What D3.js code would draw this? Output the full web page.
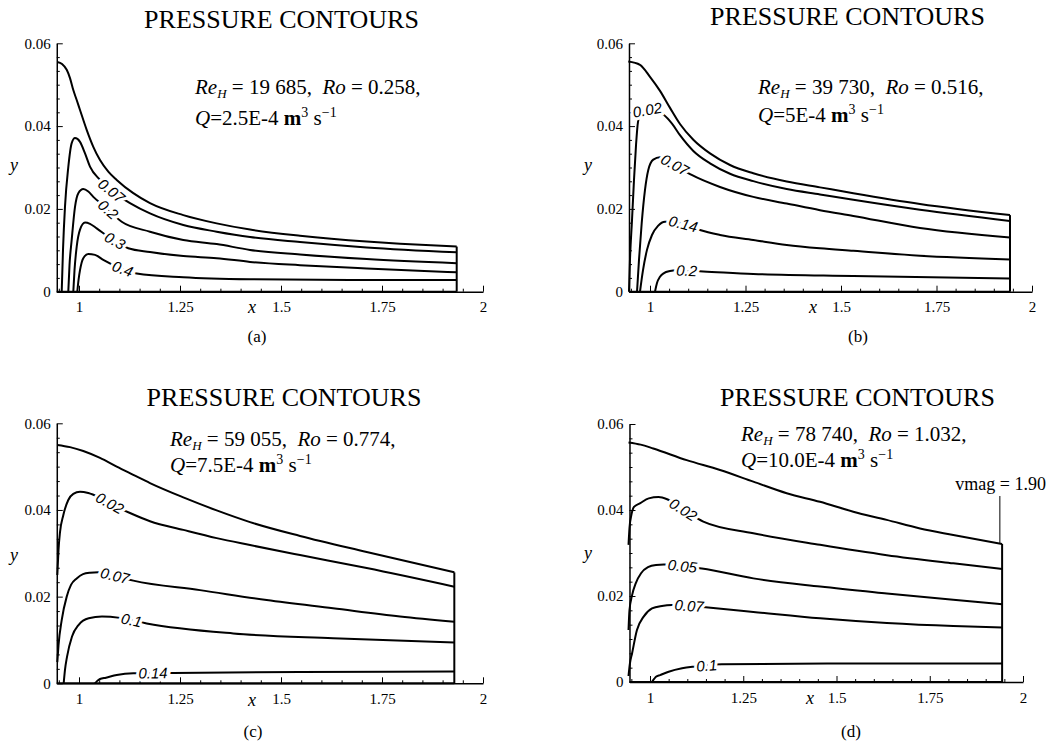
<!DOCTYPE html>
<html>
<head>
<meta charset="utf-8">
<script src="https://cdn.jsdelivr.net/npm/d3@7"></script>
<style>
  body { margin: 0; background: #fff; }
  svg text { font-family: "Liberation Serif", "Times New Roman", serif; fill: #000; }
  svg text.clab { font-family: "Liberation Sans", Arial, sans-serif; font-style: italic; }
</style>
</head>
<body>
<svg id="fig" width="1048" height="747"></svg>
<script>
// ---- data (x, y in metres) ----
var xTicks = [1, 1.25, 1.5, 1.75, 2];
var yTicks = [0, 0.02, 0.04, 0.06];
var xMin = 0.945;

var reValues = ["19 685", "39 730", "59 055", "78 740"];
var roValues = ["0.258", "0.516", "0.774", "1.032"];
var qValues = ["2.5E-4", "5E-4", "7.5E-4", "10.0E-4"];

// (a)
var aTop = [[0.9463,0.0555],[0.958,0.0550],[0.9696,0.0536],[0.9777,0.0516],[0.9859,0.0487],[0.9943,0.0463],[1.0025,0.0439],[1.019,0.0391],[1.0354,0.0350],[1.052,0.0318],[1.0725,0.0290],[1.0933,0.0270],[1.1344,0.0238],[1.1757,0.0214],[1.2582,0.0185],[1.3408,0.0165],[1.4233,0.0150],[1.547,0.0135],[1.712,0.0121],[1.7946,0.0116],[1.9349,0.0109]];
var aC007 = [[0.9572,0],[0.9604,0.0101],[0.9653,0.0205],[0.9735,0.0301],[0.9819,0.0359],[0.9901,0.0371],[1.0025,0.0362],[1.0149,0.0334],[1.0272,0.0302],[1.052,0.0270],[1.0767,0.0246],[1.1015,0.0229],[1.1262,0.0214],[1.1757,0.0189],[1.2582,0.0161],[1.3408,0.0145],[1.4233,0.0132],[1.547,0.0120],[1.712,0.0107],[1.9349,0.0095]];
var aC02 = [[0.9735,0],[0.9765,0.0064],[0.9819,0.0125],[0.9901,0.0205],[0.9983,0.0238],[1.0106,0.0248],[1.023,0.0242],[1.0354,0.0229],[1.0644,0.0205],[1.1057,0.0169],[1.1757,0.0145],[1.2582,0.0125],[1.3408,0.0115],[1.4233,0.0101],[1.547,0.0090],[1.712,0.0079],[1.9349,0.0069]];
var aC03 = [[0.9859,0],[0.9889,0.0052],[0.9943,0.0109],[1.0025,0.0150],[1.0149,0.0167],[1.0272,0.0164],[1.0438,0.0153],[1.0767,0.0130],[1.1220,0.0105],[1.1757,0.0096],[1.2582,0.0086],[1.3408,0.0081],[1.4233,0.0072],[1.547,0.0064],[1.712,0.0056],[1.9349,0.0047]];
var aC04 = [[0.9958,0],[0.9988,0.0028],[1.0025,0.0052],[1.0106,0.0081],[1.023,0.0091],[1.0396,0.0089],[1.0601,0.0077],[1.1015,0.0057],[1.1428,0.0044],[1.2582,0.0035],[1.4233,0.0030],[1.6708,0.0028],[1.9349,0.0028]];
var aLevels = ["0.07", "0.2", "0.3", "0.4"];
var aLabelX = [1.080, 1.072, 1.089, 1.108];

// (b)
var bTop = [[0.9432,0.0556],[0.9738,0.0548],[1.0,0.0519],[1.0262,0.0485],[1.0524,0.0444],[1.0785,0.0405],[1.1134,0.0367],[1.1571,0.0334],[1.2094,0.0306],[1.2704,0.0286],[1.3579,0.0266],[1.445,0.0252],[1.5322,0.0238],[1.7068,0.0212],[1.9424,0.0185]];
var bC002 = [[0.945,0],[0.9476,0.0077],[0.9529,0.0173],[0.9581,0.0270],[0.9634,0.0354],[0.9686,0.0410],[0.9764,0.0432],[0.9895,0.0439],[1.0131,0.0438],[1.0348,0.0428],[1.0576,0.0406],[1.0785,0.0378],[1.1134,0.0340],[1.1571,0.0310],[1.2094,0.0285],[1.2704,0.0267],[1.3579,0.0248],[1.445,0.0235],[1.5322,0.0222],[1.7068,0.0198],[1.9424,0.0171]];
var bC007 = [[0.9660,0],[0.9712,0.0077],[0.9783,0.0166],[0.9869,0.0246],[0.9955,0.0294],[1.0086,0.0319],[1.0262,0.0325],[1.0654,0.0306],[1.1091,0.0282],[1.1832,0.0253],[1.2704,0.0229],[1.3579,0.0213],[1.445,0.0197],[1.5322,0.0183],[1.7068,0.0154],[1.9424,0.0131]];
var bC014 = [[0.9738,0],[0.9817,0.0052],[0.9921,0.0101],[1.0052,0.0137],[1.0209,0.0159],[1.0393,0.0169],[1.0576,0.0169],[1.0916,0.0163],[1.1309,0.0149],[1.1832,0.0137],[1.2704,0.0125],[1.3579,0.0113],[1.445,0.0105],[1.5322,0.0099],[1.7068,0.0087],[1.9424,0.0078]];
var bC02 = [[1.0131,0],[1.0183,0.0021],[1.0262,0.0036],[1.0366,0.0045],[1.0524,0.0050],[1.0681,0.0052],[1.1395,0.0049],[1.2704,0.0043],[1.5322,0.0038],[1.9424,0.0032]];
var bLevels = ["0.02", "0.07", "0.14", "0.2"];
var bLabelX = [0.993, 1.065, 1.087, 1.096];

// (c)
var cTop = [[0.9463,0.0550],[0.9777,0.0545],[1.0106,0.0536],[1.052,0.0520],[1.0933,0.0500],[1.1344,0.0481],[1.1757,0.0462],[1.2582,0.0429],[1.3408,0.0399],[1.4233,0.0372],[1.547,0.0340],[1.7121,0.0303],[1.9290,0.0256]];
var cC002 = [[0.9463,0.0250],[0.9493,0.0308],[0.9530,0.0349],[0.9611,0.0388],[0.9735,0.0423],[0.9859,0.0437],[1.0025,0.0442],[1.023,0.0439],[1.052,0.0428],[1.0891,0.0409],[1.1262,0.0393],[1.1757,0.0374],[1.2582,0.0354],[1.3408,0.0335],[1.4233,0.0319],[1.547,0.0296],[1.7121,0.0266],[1.9290,0.0223]];
var cC007 = [[0.9463,0.0049],[0.9493,0.0088],[0.9572,0.0146],[0.9696,0.0200],[0.9802,0.0227],[0.9943,0.0242],[1.0099,0.0252],[1.0272,0.0255],[1.0478,0.0256],[1.0891,0.0248],[1.1344,0.0237],[1.2995,0.0215],[1.4646,0.0192],[1.6287,0.0173],[1.7946,0.0154],[1.9290,0.0142]];
var cC01 = [[0.9621,0],[0.9653,0.0031],[0.9703,0.0061],[0.9827,0.0108],[0.9993,0.0135],[1.024,0.0150],[1.0569,0.0154],[1.1015,0.0151],[1.1676,0.0138],[1.3819,0.0115],[1.6287,0.0104],[1.9290,0.0094]];
var cC014 = [[1.0396,0],[1.0446,0.0005],[1.052,0.0010],[1.0668,0.0013],[1.0933,0.0019],[1.1344,0.0023],[1.2334,0.0024],[1.547,0.0026],[1.9290,0.0027]];
var cLevels = ["0.02", "0.07", "0.1", "0.14"];
var cLabelX = [1.076, 1.089, 1.130, 1.183];

// (d)
var dTop = [[0.9424,0.0557],[0.975,0.0552],[1.0088,0.0543],[1.0984,0.0516],[1.1877,0.0493],[1.2769,0.0466],[1.3665,0.0439],[1.4558,0.0419],[1.545,0.0396],[1.6346,0.0377],[1.7239,0.0357],[1.8131,0.0342],[1.944,0.0321]];
var dC002 = [[0.9424,0.0319],[0.945,0.0358],[0.950,0.0388],[0.957,0.0407],[0.974,0.0416],[0.9965,0.0427],[1.023,0.0430],[1.046,0.0425],[1.094,0.0398],[1.143,0.0373],[1.277,0.0346],[1.456,0.0319],[1.635,0.0295],[1.813,0.0276],[1.944,0.0263]];
var dC005 = [[0.9424,0.0121],[0.945,0.0167],[0.952,0.0202],[0.962,0.0230],[0.976,0.0253],[0.9946,0.0267],[1.016,0.0272],[1.0375,0.0273],[1.080,0.0270],[1.139,0.0264],[1.277,0.0241],[1.456,0.0222],[1.635,0.0206],[1.813,0.0191],[1.944,0.0181]];
var dC007 = [[0.9424,0.0014],[0.946,0.0042],[0.952,0.0067],[0.965,0.0121],[0.983,0.0152],[1.0054,0.0171],[1.032,0.0177],[1.059,0.0179],[1.107,0.0177],[1.156,0.0173],[1.277,0.0163],[1.456,0.0148],[1.635,0.0137],[1.813,0.0130],[1.944,0.0127]];
var dC01 = [[1.005,0],[1.011,0.0007],[1.016,0.0012],[1.027,0.0016],[1.050,0.0024],[1.086,0.0032],[1.121,0.0036],[1.192,0.0041],[1.536,0.0043],[1.944,0.0043]];
var dLevels = ["0.02", "0.05", "0.07", "0.1"];
var dLabelX = [1.089, 1.087, 1.105, 1.152];
var vmagText = "vmag = 1.90";
var vmagX = 1.938;

// ---- layout of the four panels (pixels) ----
var panels = [
  {top: aTop, curves: [aC007, aC02, aC03, aC04], levels: aLevels, labelX: aLabelX,
   x1: 79, x2: 483, yb: 291.7, yt: 43.3, title: [281.5, 28], ann: [195, 94, 125],
   xlab: [252, 313], ylab: [14, 171], cap: [257, 342, "(a)"]},
  {top: bTop, curves: [bC002, bC007, bC014, bC02], levels: bLevels, labelX: bLabelX,
   x1: 650, x2: 1032, yb: 291.7, yt: 43.3, title: [847.5, 25], ann: [758, 94, 122],
   xlab: [813, 313], ylab: [588, 171], cap: [858, 342, "(b)"]},
  {top: cTop, curves: [cC002, cC007, cC01, cC014], levels: cLevels, labelX: cLabelX,
   x1: 79, x2: 483, yb: 683.3, yt: 423.3, title: [284, 406], ann: [170, 446, 472],
   xlab: [252, 706], ylab: [14, 561], cap: [253, 737, "(c)"]},
  {top: dTop, curves: [dC002, dC005, dC007, dC01], levels: dLevels, labelX: dLabelX,
   x1: 650, x2: 1023, yb: 682, yt: 424, title: [857.5, 406], ann: [741, 441, 467],
   xlab: [810, 704], ylab: [588, 559], cap: [851, 737, "(d)"]}
];

var svg = d3.select("#fig");

function yAt(pts, xv) {
  for (var i = 1; i < pts.length; i++) {
    if (xv <= pts[i][0]) {
      var t = (xv - pts[i-1][0]) / (pts[i][0] - pts[i-1][0]);
      return pts[i-1][1] + t * (pts[i][1] - pts[i-1][1]);
    }
  }
  return pts[pts.length - 1][1];
}

panels.forEach(function(p, k) {
  var g = svg.append("g");

  var x = d3.scaleLinear()
      .domain([xMin, 2])
      .range([p.x1 - (1 - xMin) * (p.x2 - p.x1), p.x2]);
  var y = d3.scaleLinear()
      .domain([0, 0.06])
      .range([p.yb, p.yt]);

  // minor ticks
  var xMinor = d3.range(0.95, 2.001, 0.05).filter(function(v) { return Math.abs(v * 4 - Math.round(v * 4)) > 1e-6; });
  var yMinor = d3.range(0, 0.0601, 0.02 / 6).filter(function(v) { return Math.abs(v * 50 - Math.round(v * 50)) > 1e-6; });

  g.append("g")
      .attr("transform", "translate(0," + p.yb + ")")
      .call(d3.axisBottom(x).tickValues(xMinor).tickSizeInner(-3).tickSizeOuter(0).tickFormat(""))
      .call(function(s) { s.select(".domain").remove(); });
  g.append("g")
      .attr("transform", "translate(" + x(xMin) + ",0)")
      .call(d3.axisLeft(y).tickValues(yMinor).tickSizeInner(-3).tickSizeOuter(0).tickFormat(""))
      .call(function(s) { s.select(".domain").remove(); });

  var xa = g.append("g")
      .attr("transform", "translate(0," + p.yb + ")")
      .call(d3.axisBottom(x).tickValues(xTicks).tickSizeInner(-6).tickSizeOuter(0)
            .tickPadding(10).tickFormat(d3.format("")));
  var ya = g.append("g")
      .attr("transform", "translate(" + x(xMin) + ",0)")
      .call(d3.axisLeft(y).tickValues(yTicks).tickSizeInner(-6).tickSizeOuter(0)
            .tickPadding(6).tickFormat(function(d) { return d === 0 ? "0" : d3.format(".2f")(d); }));
  [xa, ya].forEach(function(a) {
    a.attr("font-size", 15);
    a.select(".domain").attr("stroke-width", 1.5);
  });

  var line = d3.line()
      .x(function(d) { return x(d[0]); })
      .y(function(d) { return y(d[1]); })
      .curve(d3.curveMonotoneX);

  var last = p.top[p.top.length - 1];

  // domain bottom, right boundary, top surface
  g.append("line")
      .attr("x1", x(xMin)).attr("x2", x(last[0]))
      .attr("y1", y(0)).attr("y2", y(0))
      .attr("stroke", "#000").attr("stroke-width", 2);
  g.append("line")
      .attr("x1", x(last[0])).attr("x2", x(last[0]))
      .attr("y1", y(0)).attr("y2", y(last[1]))
      .attr("stroke", "#000").attr("stroke-width", 2);

  g.append("g")
    .selectAll("path")
    .data([p.top].concat(p.curves))
    .enter()
    .append("path")
      .attr("fill", "none")
      .attr("stroke", "#000")
      .attr("stroke-width", 2)
      .attr("stroke-linejoin", "round")
      .attr("d", line);

  // contour labels sitting on their lines
  p.curves.forEach(function(c, i) {
    var lx = p.labelX[i], h = 0.012;
    var ang = Math.atan2(y(yAt(c, lx + h)) - y(yAt(c, lx - h)), x(lx + h) - x(lx - h)) * 180 / Math.PI;
    g.append("text")
        .attr("class", "clab")
        .attr("transform", "translate(" + x(lx) + "," + y(yAt(c, lx)) + ") rotate(" + ang + ")")
        .attr("text-anchor", "middle")
        .attr("dy", "0.35em")
        .attr("font-size", 15)
        .attr("stroke", "#fff")
        .attr("stroke-width", 6)
        .attr("paint-order", "stroke")
        .text(p.levels[i]);
  });

  // title
  g.append("text")
      .attr("x", p.title[0]).attr("y", p.title[1])
      .attr("text-anchor", "middle")
      .attr("font-size", 26)
      .text("PRESSURE CONTOURS");

  // parameters
  var t1 = g.append("text").attr("x", p.ann[0]).attr("y", p.ann[1]).attr("font-size", 21);
  t1.append("tspan").attr("font-style", "italic").text("Re");
  t1.append("tspan").attr("font-style", "italic").attr("font-size", 13).attr("dy", 4).text("H");
  t1.append("tspan").attr("dy", -4).text(" = " + reValues[k] + ",\u00a0\u00a0");
  t1.append("tspan").attr("font-style", "italic").text("Ro");
  t1.append("tspan").text(" = " + roValues[k] + ",");

  var t2 = g.append("text").attr("x", p.ann[0]).attr("y", p.ann[2]).attr("font-size", 21);
  t2.append("tspan").attr("font-style", "italic").text("Q");
  t2.append("tspan").text("=" + qValues[k] + " ");
  t2.append("tspan").attr("font-weight", "bold").text("m");
  t2.append("tspan").attr("font-size", 14).attr("dy", -8).text("3");
  t2.append("tspan").attr("dy", 8).text(" s");
  t2.append("tspan").attr("font-size", 14).attr("dy", -8).text("\u22121");

  // axis names
  g.append("text").attr("x", p.xlab[0]).attr("y", p.xlab[1])
      .attr("text-anchor", "middle").attr("font-size", 18).attr("font-style", "italic").text("x");
  g.append("text").attr("x", p.ylab[0]).attr("y", p.ylab[1])
      .attr("text-anchor", "middle").attr("font-size", 18).attr("font-style", "italic").text("y");

  // caption
  g.append("text").attr("x", p.cap[0]).attr("y", p.cap[1])
      .attr("text-anchor", "middle").attr("font-size", 17).text(p.cap[2]);

  if (k === 3) {
    g.append("line")
        .attr("x1", x(vmagX)).attr("x2", x(vmagX))
        .attr("y1", 496).attr("y2", y(yAt(p.top, vmagX)))
        .attr("stroke", "#000").attr("stroke-width", 1);
    g.append("text")
        .attr("x", 1046).attr("y", 490)
        .attr("text-anchor", "end")
        .attr("font-size", 18)
        .text(vmagText);
  }
});
</script>
</body>
</html>
